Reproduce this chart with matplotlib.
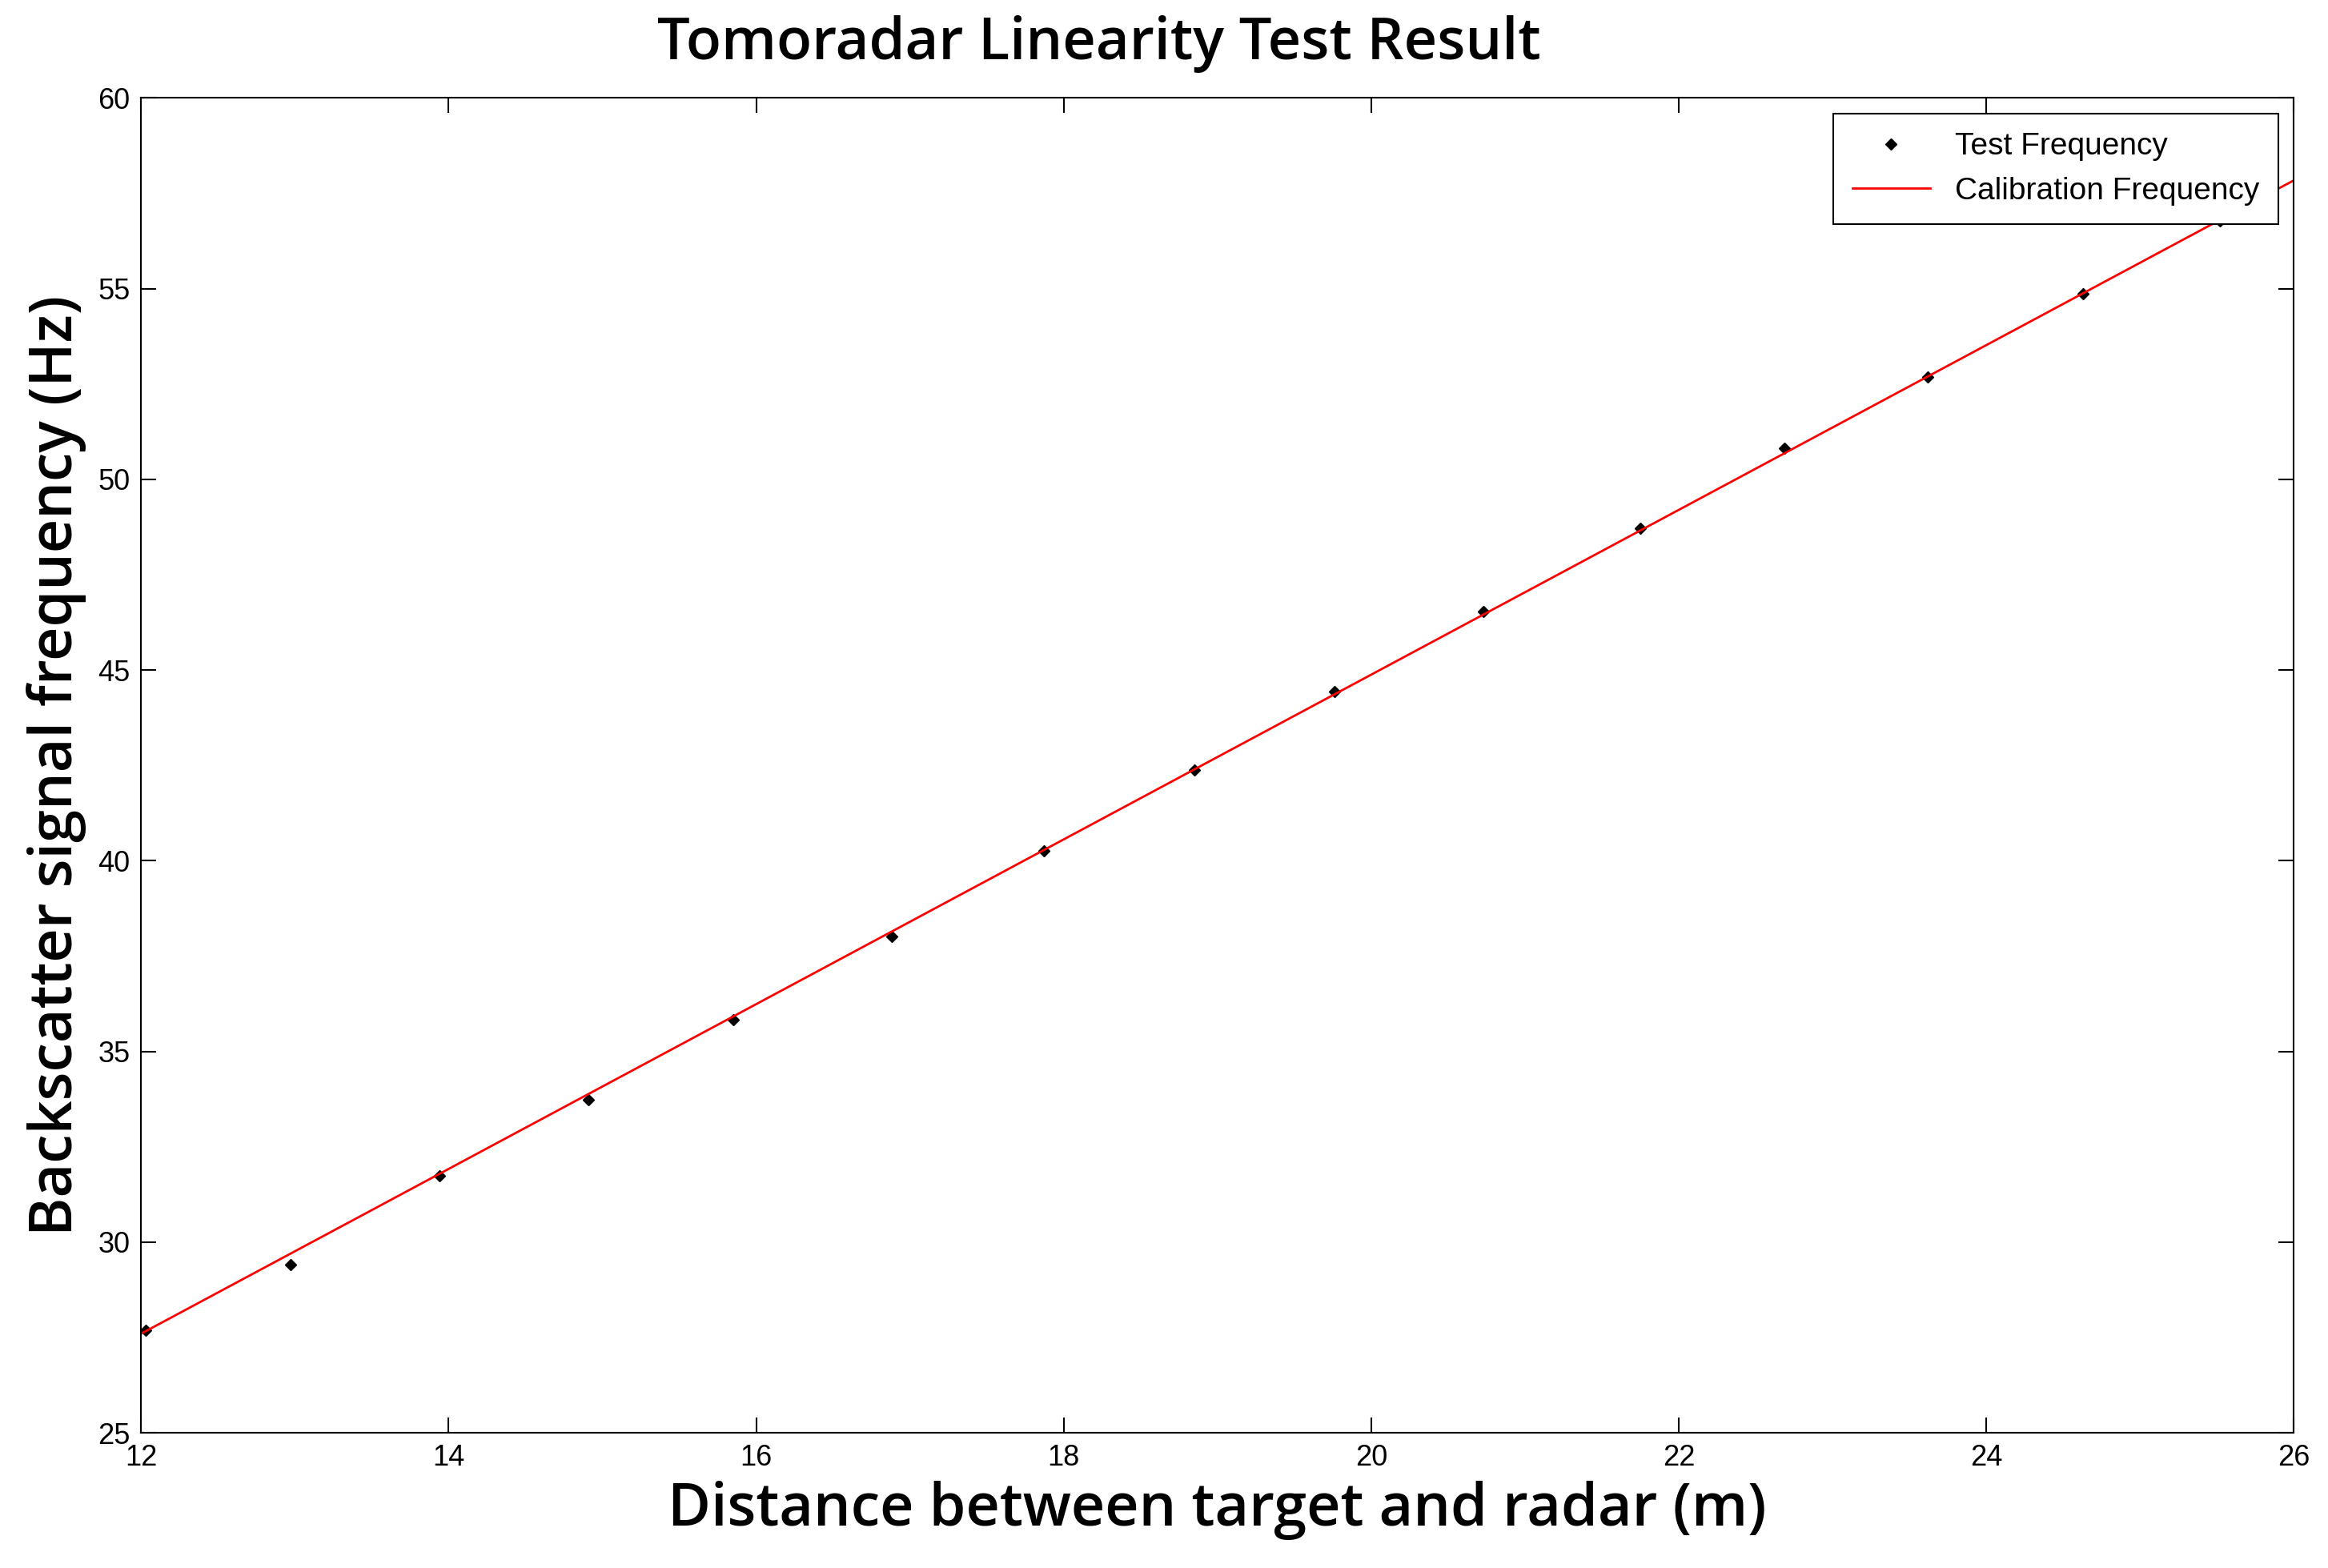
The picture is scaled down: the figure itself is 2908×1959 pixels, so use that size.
import matplotlib
matplotlib.use("Agg")
import matplotlib.pyplot as plt

test_x = [12.03, 12.97, 13.94, 14.91, 15.85, 16.88, 17.87, 18.85, 19.76, 20.73, 21.75, 22.69, 23.62, 24.63, 25.52]
test_y = [27.69, 29.40, 31.74, 33.73, 35.83, 38.01, 40.26, 42.37, 44.43, 46.53, 48.71, 50.81, 52.68, 54.86, 56.77]
calib_x = [12.0, 26.0]
calib_y = [27.6, 57.84]
xticks = [12, 14, 16, 18, 20, 22, 24, 26]
yticks = [25, 30, 35, 40, 45, 50, 55, 60]

narrow = ['Liberation Sans Narrow', 'Liberation Sans', 'DejaVu Sans']
big = ['Open Sans', 'DejaVu Sans']

fig = plt.figure(figsize=(29.08, 19.59), dpi=100)
ax = fig.add_axes([0.0606, 0.0862, 0.9247, 0.8513])
ax.plot(test_x, test_y, linestyle='none', marker='D', markersize=7, color='black', label='Test Frequency')
ax.plot(calib_x, calib_y, color='red', linewidth=2, label='Calibration Frequency')
ax.set_xlim(12, 26)
ax.set_ylim(25, 60)
ax.set_xticks(xticks)
ax.set_yticks(yticks)
ax.tick_params(direction='in', top=True, right=True, length=14, width=1.5, labelsize=26, pad=10)
for lab in ax.get_xticklabels() + ax.get_yticklabels():
    lab.set_family(narrow)
for s in ax.spines.values():
    s.set_linewidth(1.5)
fig.text(0.472, 0.972, 'Tomoradar Linearity Test Result', fontsize=52, family=big,
         weight='semibold', ha='center', va='center')
ax.set_xlabel('Distance between target and radar (m)', fontsize=53, family=big,
              weight='semibold', labelpad=8)
ax.set_ylabel('Backscatter signal frequency (Hz)', fontsize=53, family=big,
              weight='semibold', labelpad=10)
leg = ax.legend(loc='upper right', prop={'family': narrow, 'size': 28}, fancybox=False,
                edgecolor='black', framealpha=1, borderaxespad=0.5, handlelength=2.5,
                borderpad=0.6)
leg.get_frame().set_linewidth(1.5)
fig.savefig('out.png', dpi=100, facecolor='white')
